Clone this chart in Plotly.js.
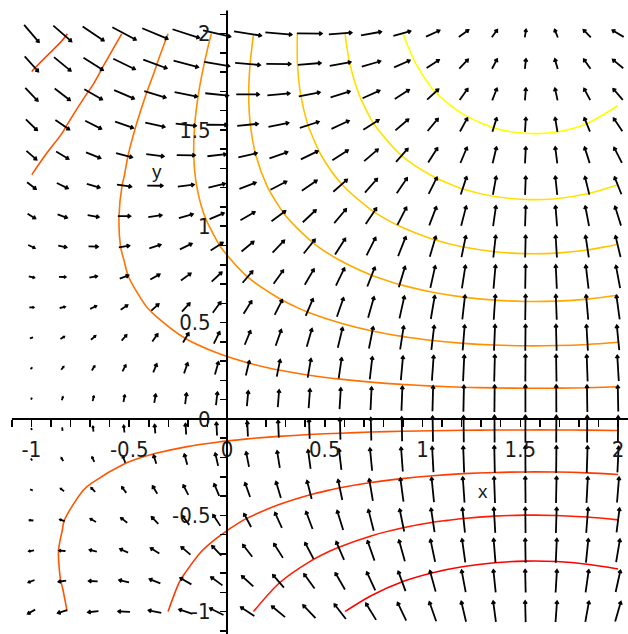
<!DOCTYPE html>
<html><head><meta charset="utf-8">
<script src="https://cdn.plot.ly/plotly-3.0.1.min.js"></script>
<style>html,body{margin:0;padding:0;background:#fff;overflow:hidden}#chart{width:628px;height:634px}</style>
</head><body><div id="chart"></div>
<script>
// grid of the direction field / contour samples (x and y share the same 20 values)
const XS = [-1,-0.8421,-0.6842,-0.5263,-0.3684,-0.2105,-0.0526,0.1053,0.2632,0.4211,0.5789,0.7368,0.8947,1.0526,1.2105,1.3684,1.5263,1.6842,1.8421,2];
const YS = [-1,-0.8421,-0.6842,-0.5263,-0.3684,-0.2105,-0.0526,0.1053,0.2632,0.4211,0.5789,0.7368,0.8947,1.0526,1.2105,1.3684,1.5263,1.6842,1.8421,2];

// horizontal arrow components, one row per y value (bottom to top)
const U = [
[-0.54,-0.67,-0.77,-0.86,-0.93,-0.98,-1.00,-0.99,-0.97,-0.91,-0.84,-0.74,-0.63,-0.50,-0.35,-0.20,-0.04,0.11,0.27,0.42],
[-0.45,-0.56,-0.65,-0.73,-0.79,-0.82,-0.84,-0.84,-0.81,-0.77,-0.70,-0.62,-0.53,-0.42,-0.30,-0.17,-0.04,0.10,0.23,0.35],
[-0.37,-0.46,-0.53,-0.59,-0.64,-0.67,-0.68,-0.68,-0.66,-0.62,-0.57,-0.51,-0.43,-0.34,-0.24,-0.14,-0.03,0.08,0.18,0.28],
[-0.28,-0.35,-0.41,-0.46,-0.49,-0.51,-0.53,-0.52,-0.51,-0.48,-0.44,-0.39,-0.33,-0.26,-0.19,-0.11,-0.02,0.06,0.14,0.22],
[-0.20,-0.25,-0.29,-0.32,-0.34,-0.36,-0.37,-0.37,-0.36,-0.34,-0.31,-0.27,-0.23,-0.18,-0.13,-0.07,-0.02,0.04,0.10,0.15],
[-0.11,-0.14,-0.16,-0.18,-0.20,-0.21,-0.21,-0.21,-0.20,-0.19,-0.18,-0.16,-0.13,-0.10,-0.07,-0.04,-0.01,0.02,0.06,0.09],
[-0.03,-0.03,-0.04,-0.05,-0.05,-0.05,-0.05,-0.05,-0.05,-0.05,-0.04,-0.04,-0.03,-0.03,-0.02,-0.01,0.00,0.01,0.01,0.02],
[0.06,0.07,0.08,0.09,0.10,0.10,0.11,0.10,0.10,0.10,0.09,0.08,0.07,0.05,0.04,0.02,0.00,-0.01,-0.03,-0.04],
[0.14,0.18,0.20,0.23,0.25,0.26,0.26,0.26,0.25,0.24,0.22,0.19,0.16,0.13,0.09,0.05,0.01,-0.03,-0.07,-0.11],
[0.23,0.28,0.33,0.36,0.39,0.41,0.42,0.42,0.41,0.38,0.35,0.31,0.26,0.21,0.15,0.08,0.02,-0.05,-0.11,-0.18],
[0.31,0.39,0.45,0.50,0.54,0.57,0.58,0.58,0.56,0.53,0.48,0.43,0.36,0.29,0.20,0.12,0.03,-0.07,-0.16,-0.24],
[0.40,0.49,0.57,0.64,0.69,0.72,0.74,0.73,0.71,0.67,0.62,0.55,0.46,0.36,0.26,0.15,0.03,-0.08,-0.20,-0.31],
[0.48,0.60,0.69,0.77,0.83,0.87,0.89,0.89,0.86,0.82,0.75,0.66,0.56,0.44,0.32,0.18,0.04,-0.10,-0.24,-0.37],
[0.57,0.70,0.82,0.91,0.98,1.03,1.05,1.05,1.02,0.96,0.88,0.78,0.66,0.52,0.37,0.21,0.05,-0.12,-0.28,-0.44],
[0.65,0.81,0.94,1.05,1.13,1.18,1.21,1.20,1.17,1.10,1.01,0.90,0.76,0.60,0.43,0.24,0.05,-0.14,-0.32,-0.50],
[0.74,0.91,1.06,1.18,1.28,1.34,1.37,1.36,1.32,1.25,1.15,1.01,0.86,0.68,0.48,0.28,0.06,-0.15,-0.37,-0.57],
[0.82,1.02,1.18,1.32,1.42,1.49,1.52,1.52,1.47,1.39,1.28,1.13,0.96,0.76,0.54,0.31,0.07,-0.17,-0.41,-0.64],
[0.91,1.12,1.31,1.46,1.57,1.65,1.68,1.67,1.63,1.54,1.41,1.25,1.05,0.83,0.59,0.34,0.07,-0.19,-0.45,-0.70],
[1.00,1.23,1.43,1.59,1.72,1.80,1.84,1.83,1.78,1.68,1.54,1.36,1.15,0.91,0.65,0.37,0.08,-0.21,-0.49,-0.77],
[1.08,1.33,1.55,1.73,1.87,1.96,2.00,1.99,1.93,1.83,1.67,1.48,1.25,0.99,0.71,0.40,0.09,-0.23,-0.54,-0.83]
];

// vertical arrow components, one row per y value (bottom to top)
const V = [
[-0.30,-0.21,-0.09,0.04,0.18,0.33,0.49,0.65,0.80,0.95,1.09,1.21,1.32,1.41,1.48,1.52,1.54,1.53,1.50,1.45],
[-0.18,-0.08,0.03,0.16,0.31,0.46,0.61,0.77,0.93,1.07,1.21,1.34,1.45,1.53,1.60,1.65,1.66,1.66,1.63,1.58],
[-0.07,0.03,0.14,0.27,0.41,0.57,0.72,0.88,1.04,1.18,1.32,1.45,1.55,1.64,1.71,1.75,1.77,1.77,1.74,1.68],
[0.02,0.12,0.23,0.36,0.50,0.66,0.81,0.97,1.12,1.27,1.41,1.54,1.64,1.73,1.80,1.84,1.86,1.86,1.83,1.77],
[0.09,0.19,0.30,0.43,0.57,0.72,0.88,1.04,1.19,1.34,1.48,1.60,1.71,1.80,1.87,1.91,1.93,1.93,1.90,1.84],
[0.14,0.23,0.35,0.48,0.62,0.77,0.93,1.08,1.24,1.39,1.52,1.65,1.76,1.85,1.91,1.96,1.98,1.97,1.94,1.89],
[0.16,0.25,0.37,0.50,0.64,0.79,0.95,1.10,1.26,1.41,1.55,1.67,1.78,1.87,1.93,1.98,2.00,1.99,1.96,1.91],
[0.15,0.25,0.36,0.49,0.63,0.79,0.94,1.10,1.25,1.40,1.54,1.67,1.77,1.86,1.93,1.97,1.99,1.99,1.96,1.90],
[0.12,0.22,0.33,0.46,0.61,0.76,0.91,1.07,1.23,1.37,1.51,1.64,1.75,1.83,1.90,1.95,1.96,1.96,1.93,1.87],
[0.07,0.17,0.28,0.41,0.55,0.70,0.86,1.02,1.17,1.32,1.46,1.58,1.69,1.78,1.85,1.89,1.91,1.91,1.88,1.82],
[0.00,0.09,0.21,0.33,0.48,0.63,0.78,0.94,1.10,1.25,1.38,1.51,1.62,1.71,1.77,1.82,1.84,1.83,1.80,1.75],
[-0.10,-0.01,0.11,0.24,0.38,0.53,0.69,0.85,1.00,1.15,1.29,1.41,1.52,1.61,1.68,1.72,1.74,1.73,1.70,1.65],
[-0.22,-0.12,-0.01,0.12,0.27,0.42,0.57,0.73,0.89,1.03,1.17,1.30,1.41,1.49,1.56,1.61,1.62,1.62,1.59,1.54],
[-0.35,-0.25,-0.14,-0.01,0.14,0.29,0.44,0.60,0.76,0.90,1.04,1.17,1.28,1.36,1.43,1.47,1.49,1.49,1.46,1.40],
[-0.49,-0.39,-0.28,-0.15,-0.01,0.14,0.30,0.46,0.61,0.76,0.90,1.02,1.13,1.22,1.29,1.33,1.35,1.35,1.32,1.26],
[-0.64,-0.54,-0.43,-0.30,-0.16,-0.01,0.15,0.31,0.46,0.61,0.75,0.87,0.98,1.07,1.14,1.18,1.20,1.19,1.16,1.11],
[-0.80,-0.70,-0.59,-0.46,-0.32,-0.16,-0.01,0.15,0.30,0.45,0.59,0.72,0.82,0.91,0.98,1.02,1.04,1.04,1.01,0.95],
[-0.95,-0.86,-0.75,-0.62,-0.47,-0.32,-0.17,-0.01,0.15,0.30,0.43,0.56,0.67,0.76,0.82,0.87,0.89,0.88,0.85,0.80],
[-1.11,-1.01,-0.90,-0.77,-0.63,-0.48,-0.32,-0.16,-0.01,0.14,0.28,0.40,0.51,0.60,0.67,0.71,0.73,0.73,0.70,0.64],
[-1.26,-1.16,-1.05,-0.92,-0.78,-0.63,-0.47,-0.31,-0.16,-0.01,0.13,0.26,0.36,0.45,0.52,0.56,0.58,0.58,0.55,0.49]
];

// sampled surface for the contour lines, one row per y value (bottom to top)
const Z = [
[0.000,-0.096,-0.210,-0.339,-0.481,-0.633,-0.789,-0.947,-1.102,-1.250,-1.389,-1.513,-1.622,-1.710,-1.777,-1.821,-1.841,-1.835,-1.805,-1.751],
[-0.037,-0.118,-0.214,-0.323,-0.443,-0.570,-0.702,-0.835,-0.965,-1.090,-1.207,-1.312,-1.403,-1.478,-1.534,-1.571,-1.587,-1.583,-1.557,-1.512],
[-0.056,-0.122,-0.200,-0.288,-0.386,-0.489,-0.596,-0.704,-0.810,-0.912,-1.006,-1.092,-1.166,-1.226,-1.272,-1.302,-1.316,-1.312,-1.291,-1.254],
[-0.059,-0.110,-0.170,-0.238,-0.313,-0.392,-0.475,-0.558,-0.639,-0.718,-0.790,-0.856,-0.913,-0.960,-0.995,-1.018,-1.028,-1.025,-1.009,-0.981],
[-0.050,-0.085,-0.127,-0.175,-0.227,-0.283,-0.341,-0.399,-0.456,-0.511,-0.562,-0.608,-0.647,-0.680,-0.705,-0.721,-0.728,-0.726,-0.715,-0.695],
[-0.032,-0.052,-0.076,-0.103,-0.133,-0.165,-0.198,-0.231,-0.264,-0.295,-0.324,-0.350,-0.373,-0.392,-0.406,-0.415,-0.419,-0.418,-0.412,-0.400],
[-0.008,-0.013,-0.019,-0.026,-0.034,-0.042,-0.050,-0.058,-0.066,-0.074,-0.081,-0.088,-0.094,-0.098,-0.102,-0.104,-0.105,-0.105,-0.103,-0.100],
[0.017,0.027,0.039,0.052,0.067,0.083,0.100,0.116,0.133,0.148,0.163,0.176,0.187,0.197,0.204,0.208,0.210,0.210,0.207,0.201],
[0.039,0.064,0.094,0.128,0.165,0.205,0.246,0.288,0.329,0.368,0.404,0.437,0.466,0.489,0.507,0.518,0.523,0.522,0.514,0.500],
[0.054,0.095,0.143,0.197,0.257,0.321,0.387,0.453,0.518,0.581,0.639,0.692,0.737,0.775,0.803,0.821,0.830,0.827,0.815,0.792],
[0.060,0.115,0.181,0.256,0.339,0.426,0.517,0.608,0.698,0.784,0.864,0.936,0.999,1.050,1.089,1.114,1.125,1.122,1.105,1.074],
[0.052,0.122,0.206,0.302,0.407,0.518,0.633,0.749,0.864,0.973,1.075,1.167,1.247,1.312,1.361,1.394,1.408,1.404,1.382,1.342],
[0.027,0.113,0.215,0.331,0.458,0.593,0.733,0.874,1.013,1.146,1.270,1.381,1.478,1.557,1.617,1.657,1.674,1.669,1.642,1.594],
[-0.017,0.084,0.204,0.340,0.490,0.649,0.813,0.979,1.143,1.299,1.445,1.576,1.690,1.783,1.854,1.900,1.920,1.915,1.883,1.826],
[-0.083,0.033,0.171,0.328,0.500,0.683,0.872,1.063,1.251,1.431,1.598,1.749,1.880,1.987,2.069,2.122,2.145,2.139,2.102,2.037],
[-0.172,-0.041,0.115,0.292,0.487,0.694,0.908,1.123,1.336,1.539,1.728,1.899,2.047,2.168,2.260,2.320,2.347,2.339,2.298,2.224],
[-0.285,-0.140,0.034,0.232,0.449,0.680,0.919,1.159,1.396,1.623,1.834,2.025,2.190,2.325,2.427,2.494,2.524,2.516,2.469,2.387],
[-0.424,-0.263,-0.071,0.148,0.387,0.642,0.905,1.171,1.432,1.682,1.915,2.125,2.307,2.457,2.570,2.643,2.676,2.667,2.616,2.525],
[-0.587,-0.411,-0.201,0.038,0.300,0.578,0.867,1.157,1.443,1.717,1.971,2.201,2.400,2.564,2.687,2.768,2.804,2.794,2.738,2.638],
[-0.774,-0.583,-0.355,-0.095,0.189,0.491,0.804,1.120,1.430,1.727,2.004,2.253,2.469,2.647,2.781,2.869,2.907,2.897,2.836,2.728]
];

// contour levels (10 equally spaced levels)
const LEVEL_START = -1.408;
const LEVEL_STEP = 0.4314;
const LEVEL_COUNT = 10;

// tick labels
const X_TICK_VALS = [-1,-0.5,0,0.5,1,1.5,2];
const X_TICK_TEXT = ['-1','-0.5','0','0.5','1','1.5','2'];
const Y_TICK_VALS = [-1,-0.5,0,0.5,1,1.5,2];
const Y_TICK_TEXT = ['-1','-0.5','0','0.5','1','1.5','2'];
const X_TITLE = 'x', Y_TITLE = 'y';

// ---------- layout geometry ----------
const W = 628, H = 634;
const XR = [-1.161, 2.051], YR = [-1.116, 2.174];
const pxX = W / (XR[1] - XR[0]);
const pxY = H / (YR[1] - YR[0]);
const LMAX = 28; // pixel length of the longest arrow

let vmax = 0;
for (let i = 0; i < YS.length; i++)
  for (let j = 0; j < XS.length; j++)
    vmax = Math.max(vmax, Math.hypot(U[i][j], V[i][j]));

const ax = [], ay = [];
const th = 35 * Math.PI / 180;
for (let i = 0; i < YS.length; i++) {
  for (let j = 0; j < XS.length; j++) {
    const u = U[i][j], v = V[i][j];
    const m = Math.hypot(u, v);
    let L = m / vmax * LMAX;
    if (L < 1.6) L = 1.6;
    const dx = m > 0 ? u / m : 1, dy = m > 0 ? v / m : 0;
    const cx = XS[j], cy = YS[i];
    const tx = cx - dx * L / 2 / pxX, ty = cy - dy * L / 2 / pxY;
    const hx = cx + dx * L / 2 / pxX, hy = cy + dy * L / 2 / pxY;
    ax.push(tx, hx, null); ay.push(ty, hy, null);
    const hl = Math.min(3.2, 0.35 * L);
    if (hl >= 1.2) {
      const bx = -dx, by = -dy;
      const r1x = bx * Math.cos(th) - by * Math.sin(th), r1y = bx * Math.sin(th) + by * Math.cos(th);
      const r2x = bx * Math.cos(-th) - by * Math.sin(-th), r2y = bx * Math.sin(-th) + by * Math.cos(-th);
      ax.push(hx + r1x * hl / pxX, hx, hx + r2x * hl / pxX, null);
      ay.push(hy + r1y * hl / pxY, hy, hy + r2y * hl / pxY, null);
    }
  }
}

const contourTrace = {
  type: 'contour', x: XS, y: YS, z: Z,
  autocontour: false,
  contours: { start: LEVEL_START, end: LEVEL_START + LEVEL_STEP * (LEVEL_COUNT - 1) + 0.001, size: LEVEL_STEP, coloring: 'lines' },
  colorscale: [[0, 'rgb(255,0,0)'], [1, 'rgb(255,255,0)']],
  showscale: false,
  line: { width: 1.6, smoothing: 0.9 },
  hoverinfo: 'skip'
};
const arrowTrace = {
  type: 'scatter', mode: 'lines', x: ax, y: ay,
  line: { color: '#000', width: 1.8 },
  hoverinfo: 'skip', showlegend: false
};

const tickFont = { family: 'Liberation Sans Narrow, DejaVu Sans Condensed, Liberation Sans, sans-serif', size: 22, color: '#1a1a1a' };
const layout = {
  width: W, height: H,
  margin: { l: 0, r: 0, t: 0, b: 0, pad: 0 },
  paper_bgcolor: '#fff', plot_bgcolor: '#fff',
  showlegend: false, hovermode: false,
  xaxis: {
    range: XR, anchor: 'free', position: (0 - YR[0]) / (YR[1] - YR[0]),
    showgrid: false, zeroline: false, showline: false,
    tickmode: 'array', tickvals: X_TICK_VALS, ticktext: X_TICK_TEXT,
    ticks: 'outside', ticklen: 7, tickwidth: 1.5, tickcolor: '#000',
    minor: { tickmode: 'linear', tick0: 0, dtick: 0.1, ticks: 'outside', ticklen: 7, tickwidth: 1.5, tickcolor: '#000', showgrid: false },
    tickfont: tickFont, ticklabelstandoff: 4
  },
  yaxis: {
    range: YR, anchor: 'free', position: (0 - XR[0]) / (XR[1] - XR[0]),
    showgrid: false, zeroline: false, showline: false,
    tickmode: 'array', tickvals: Y_TICK_VALS, ticktext: Y_TICK_TEXT,
    ticks: 'outside', ticklen: 7, tickwidth: 1.5, tickcolor: '#000',
    minor: { tickmode: 'linear', tick0: 0, dtick: 0.1, ticks: 'outside', ticklen: 7, tickwidth: 1.5, tickcolor: '#000', showgrid: false },
    tickfont: tickFont, ticklabelstandoff: 5
  },
  shapes: [
    { type: 'line', xref: 'x', yref: 'y', x0: -1.1, x1: XR[1], y0: 0, y1: 0, line: { color: '#000', width: 2 } },
    { type: 'line', xref: 'x', yref: 'y', x0: 0, x1: 0, y0: YR[0], y1: 2.12, line: { color: '#000', width: 2 } }
  ],
  annotations: [
    { x: 1.309, y: -0.379, xref: 'x', yref: 'y', text: X_TITLE, showarrow: false, font: { family: 'Liberation Sans, Arial, sans-serif', size: 19, color: '#1a1a1a' } },
    { x: -0.358, y: 1.282, xref: 'x', yref: 'y', text: Y_TITLE, showarrow: false, font: { family: 'Liberation Sans, Arial, sans-serif', size: 19, color: '#1a1a1a' } }
  ]
};

Plotly.newPlot('chart', [contourTrace, arrowTrace], layout, { displayModeBar: false, staticPlot: true });
</script>
</body></html>
